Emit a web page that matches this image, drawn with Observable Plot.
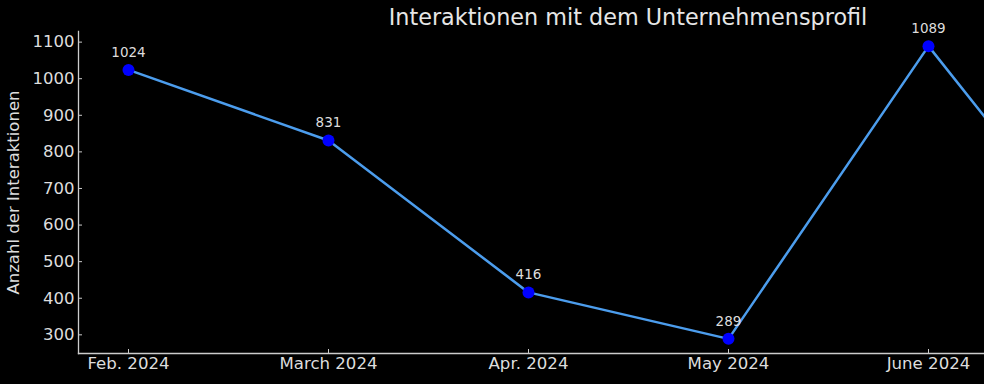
<!DOCTYPE html>
<html>
<head>
<meta charset="utf-8">
<script src="https://cdn.jsdelivr.net/npm/d3@7"></script>
<script src="https://cdn.jsdelivr.net/npm/@observablehq/plot@0.6"></script>
<style>
  html, body { margin: 0; padding: 0; background: #000; overflow: hidden; }
  #wrap { position: relative; width: 984px; height: 384px; overflow: hidden; background: #000; }
  #title { position: absolute; top: 4px; left: 0; width: 1256px; text-align: center;
           font-family: "DejaVu Sans", sans-serif; font-size: 22.3px; color: #e6e6e6; }
  #chart { position: absolute; top: 0; left: 0; }
</style>
</head>
<body>
<div id="wrap">
  <div id="chart"></div>
  <div id="title">Interaktionen mit dem Unternehmensprofil</div>
</div>
<script>
const months = ["Feb. 2024", "March 2024", "Apr. 2024", "May 2024", "June 2024", "July 2024"];
const interactions = [1024, 831, 416, 289, 1089, 400];
const yTicks = [300, 400, 500, 600, 700, 800, 900, 1000, 1100];
const yLabel = "Anzahl der Interaktionen";

const data = months.map((m, i) => ({month: m, value: interactions[i]}));

const txt = "#dddddd";
const axisCol = "#cccccc";

const chart = Plot.plot({
  width: 1256,
  height: 384,
  marginLeft: 78,
  marginRight: 78,
  marginTop: 31,
  marginBottom: 31,
  style: {background: "#000", color: txt, maxWidth: "none", overflow: "visible",
          fontFamily: "'DejaVu Sans', sans-serif"},
  x: {type: "point", domain: months, padding: 0.25},
  y: {domain: [249, 1129]},
  marks: [
    Plot.frame({anchor: "left", stroke: axisCol, strokeWidth: 1.3}),
    Plot.frame({anchor: "bottom", stroke: axisCol, strokeWidth: 1.3}),
    Plot.axisY(yTicks, {tickSize: -4, tickPadding: 8, fontSize: 16.5, fill: txt, stroke: axisCol,
      tickFormat: d3.format("d"),
      label: yLabel, labelAnchor: "center", labelOffset: 71, labelArrow: "none"}),
    Plot.axisX({tickSize: -4, tickPadding: 8, fontSize: 16.6, fill: txt, stroke: axisCol, label: null}),
    Plot.line(data, {x: "month", y: "value", stroke: "#4c9ded", strokeWidth: 2.5}),
    Plot.dot(data, {x: "month", y: "value", r: 6, fill: "#0000ff", stroke: "none"}),
    Plot.text(data, {x: "month", y: "value", text: d => String(d.value), dy: -17.5,
      fontSize: 13.5, fill: txt})
  ]
});
document.getElementById("chart").appendChild(chart);
</script>
</body>
</html>
